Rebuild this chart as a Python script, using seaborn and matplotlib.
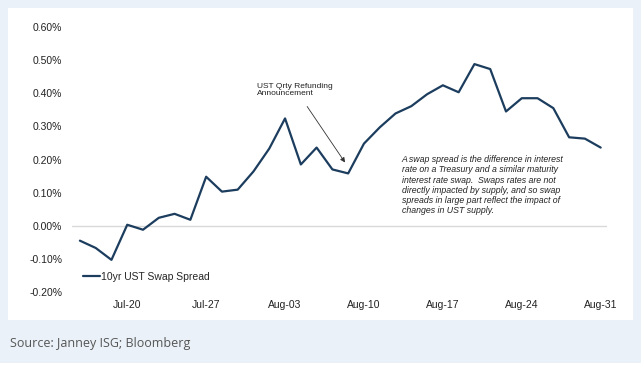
import pandas as pd
import seaborn as sns
import matplotlib.pyplot as plt
import matplotlib.patches as mpatches
from matplotlib.ticker import FuncFormatter

# business days Jul-15 .. Aug-31 (2020)
dates = pd.bdate_range('2020-07-15', '2020-08-31')
spread = [-0.045, -0.067, -0.103,
          0.003, -0.012, 0.024, 0.036, 0.018,
          0.148, 0.103, 0.109, 0.164, 0.233,
          0.324, 0.185, 0.236, 0.170, 0.158,
          0.248, 0.297, 0.339, 0.361, 0.397,
          0.424, 0.403, 0.488, 0.473, 0.345,
          0.385, 0.385, 0.355, 0.267, 0.263,
          0.236]
yticks = [-0.2, -0.1, 0.0, 0.1, 0.2, 0.3, 0.4, 0.5, 0.6]

note = ("A swap spread is the difference in interest\n"
        "rate on a Treasury and a similar maturity\n"
        "interest rate swap.  Swaps rates are not\n"
        "directly impacted by supply, and so swap\n"
        "spreads in large part reflect the impact of\n"
        "changes in UST supply.")

df = pd.DataFrame({'date': dates, 'spread': spread})
df['idx'] = range(len(df))

sns.set_theme(style='white')
plt.rcParams['font.family'] = ['Liberation Sans', 'DejaVu Sans']

bg = '#EAF1F8'
navy = '#1C3D5E'

fig = plt.figure(figsize=(6.41, 3.68), dpi=100, facecolor=bg)
# white chart panel and white strip at bottom
fig.patches.append(mpatches.Rectangle((8/641, (368-320)/368), (633-8)/641, (320-8)/368,
                                      transform=fig.transFigure, facecolor='white',
                                      edgecolor='none', zorder=-5))
fig.patches.append(mpatches.Rectangle((0, 0), 1, 5/368, transform=fig.transFigure,
                                      facecolor='white', edgecolor='none', zorder=-5))

ax = fig.add_axes([72/641, (368-292)/368, (607-72)/641, (292-27)/368])
ax.set_facecolor('none')
ax.set_zorder(2)

ax.axhline(0, color='#D9D9D9', lw=1, zorder=1)
sns.lineplot(data=df, x='idx', y='spread', ax=ax, color=navy, lw=1.6,
             label='10yr UST Swap Spread', zorder=3)

ax.set_xlim(-0.5, len(df) - 0.6)
ax.set_ylim(-0.2, 0.6)
ax.set_yticks(yticks)
ax.yaxis.set_major_formatter(FuncFormatter(lambda v, p: f'{v:.2f}%'))

mondays = df[df['date'].dt.dayofweek == 0]
ax.set_xticks(mondays['idx'])
ax.set_xticklabels(mondays['date'].dt.strftime('%b-%d'))

ax.tick_params(axis='y', length=0, pad=7, labelsize=7.5, labelcolor='#222222')
ax.tick_params(axis='x', length=0, pad=6, labelsize=7.5, labelcolor='#222222')
ax.set_xlabel('')
ax.set_ylabel('')
for s in ax.spines.values():
    s.set_visible(False)

leg = ax.legend(loc='center left', bbox_to_anchor=(11/535, (292-277)/265), frameon=False,
                fontsize=7.5, handlelength=1.6, handletextpad=0.1, borderpad=0,
                borderaxespad=0)

# refunding annotation
ax.text(11.2, 0.41, 'UST Qrty Refunding\nAnnouncement', fontsize=6.0,
        color='#222222', va='center', ha='left', linespacing=1.0)
ax.annotate('', xy=(16.8, 0.191), xytext=(14.4, 0.36),
            arrowprops=dict(arrowstyle='-|>', color='#333333', lw=0.6,
                            mutation_scale=7, shrinkA=0, shrinkB=0))

ax.text(20.4, 0.213, note, fontsize=6.3, style='italic', color='#222222',
        va='top', ha='left', linespacing=1.18)

fig.text(10/641, 1 - 343/368, 'Source: Janney ISG; Bloomberg', fontsize=9.0,
         color='#555555', family=['Open Sans', 'DejaVu Sans'], va='center', ha='left')

fig.savefig('out.png', dpi=100, facecolor=bg)
